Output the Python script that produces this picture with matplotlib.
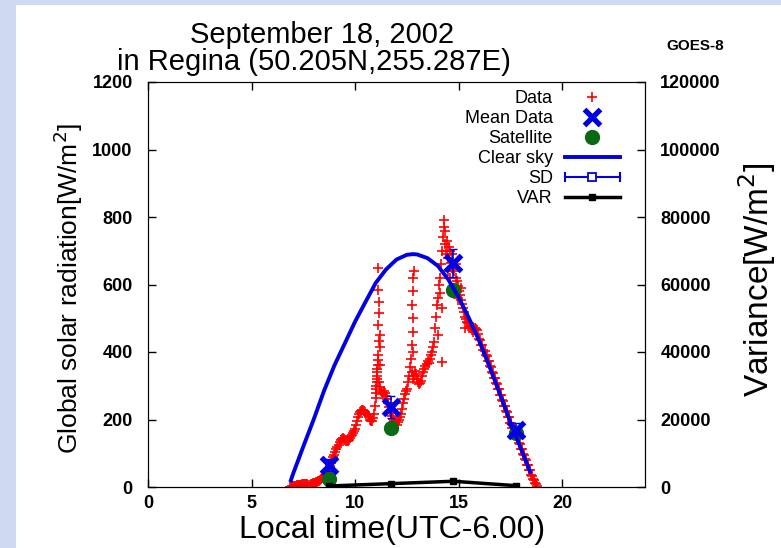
import numpy as np
import matplotlib
matplotlib.use("Agg")
import matplotlib.pyplot as plt
from matplotlib.lines import Line2D
from matplotlib.patches import Rectangle
from matplotlib.legend_handler import HandlerBase

plt.rcParams["font.family"] = ["Liberation Sans", "DejaVu Sans"]

data_t = [
    6.85, 6.90, 6.95, 7.00, 7.05, 7.10, 7.15, 7.20, 7.25, 7.30,
    7.35, 7.40, 7.45, 7.50, 7.55, 7.60, 7.65, 7.70, 7.75, 7.80,
    7.85, 7.90, 7.95, 8.00, 8.05, 8.10, 8.15, 8.20,
    8.25, 8.30, 8.35, 8.40, 8.45, 8.50, 8.55, 8.60, 8.65, 8.70,
    8.75, 8.80, 8.85, 8.90, 8.95, 9.00, 9.05, 9.10, 9.15, 9.20,
    9.25, 9.30, 9.35, 9.40, 9.45, 9.50, 9.55, 9.60, 9.65, 9.70,
    9.75, 9.80, 9.85, 9.90, 9.95, 10.00, 10.05, 10.10, 10.15, 10.20,
    10.25, 10.30, 10.35, 10.40, 10.45, 10.50, 10.55, 10.60, 10.65, 10.70,
    10.75, 10.80, 10.85, 10.90, 10.95,
    11.00, 11.01, 11.02, 11.03, 11.04, 11.05, 11.06, 11.07, 11.08, 11.09,
    11.10, 11.11,
    11.10, 11.12, 11.15, 11.12, 11.18, 11.20, 11.22, 11.14, 11.16,
    11.15, 11.20, 11.25, 11.30, 11.35, 11.40, 11.45, 11.50, 11.55, 11.60,
    11.65, 11.70, 11.75, 11.80, 11.85, 11.90, 11.95, 12.00, 12.05, 12.10,
    12.15, 12.20, 12.25, 12.30, 12.35, 12.40, 12.45, 12.50, 12.55, 12.60,
    12.65, 12.70,
    12.75, 12.78, 12.80, 12.76, 12.82, 12.80, 12.85, 12.80,
    12.75, 12.80, 12.85, 12.90, 12.95, 13.00, 13.05, 13.10, 13.15, 13.20,
    13.25, 13.30, 13.35, 13.40, 13.45, 13.50, 13.55, 13.60, 13.65, 13.70,
    13.75, 13.80, 13.85, 13.90, 13.95, 14.00, 14.05, 14.10, 14.15, 14.20,
    14.25, 14.30,
    14.20, 14.20, 14.10, 14.00, 14.28,
    14.32, 14.35, 14.40, 14.45, 14.50, 14.55, 14.60, 14.65, 14.70, 14.75,
    14.80, 14.85, 14.90, 14.95, 15.00, 15.05, 15.10, 15.15, 15.20, 15.25,
    15.30, 15.35, 15.40, 15.45, 15.50, 15.55, 15.60, 15.65, 15.70, 15.75,
    15.80, 15.85, 15.90, 15.95, 16.00,
    14.42, 14.50, 14.60, 14.70, 14.85, 14.95, 15.10, 15.30,
    16.05, 16.10, 16.15, 16.20, 16.25, 16.30, 16.35, 16.40, 16.45, 16.50,
    16.55, 16.60, 16.65, 16.70, 16.75, 16.80, 16.85, 16.90, 16.95, 17.00,
    17.05, 17.10, 17.15, 17.20, 17.25, 17.30, 17.35, 17.40, 17.45, 17.50,
    17.55, 17.60, 17.65, 17.70, 17.75, 17.80, 17.85, 17.90, 17.95, 18.00,
    18.05, 18.10, 18.15, 18.20, 18.25, 18.30, 18.35, 18.40, 18.45, 18.50,
    18.55, 18.60, 18.65, 18.70, 18.75, 18.80]
data_v = [
    0, 1, 2, 3, 3, 4, 4, 5, 6, 6,
    7, 7, 8, 8, 9, 9, 8, 8, 7, 7,
    8, 9, 11, 12, 13, 15, 16, 17,
    19, 21, 23, 26, 28, 30, 33, 36, 40, 45,
    52, 62, 70, 80, 88, 95, 104, 112, 118, 125,
    132, 138, 143, 145, 143, 140, 137, 135, 137, 140,
    145, 150, 155, 160, 166, 172, 184, 195, 206, 215,
    221, 225, 227, 228, 225, 222, 217, 212, 206, 200,
    197, 195, 203, 215, 240,
    265, 278, 290, 300, 310, 320, 330, 340, 350, 362,
    375, 390,
    649, 584, 548, 480, 450, 415, 361, 515, 432,
    310, 295, 285, 275, 280, 285, 280, 270, 262, 250,
    238, 225, 218, 210, 202, 195, 190, 185, 192, 200,
    207, 215, 232, 250, 262, 275, 283, 290, 310, 330,
    355, 380,
    420, 460, 500, 540, 580, 620, 640, 400,
    340, 320, 330, 345, 335, 320, 312, 305, 308, 315,
    328, 340, 350, 360, 365, 372, 368, 380, 390, 400,
    415, 430, 470, 505, 540, 560, 600, 620, 660, 700,
    740, 790,
    370, 530, 575, 450, 770,
    760, 720, 690, 700, 680, 710, 700, 665, 650, 645,
    640, 620, 610, 595, 580, 568, 555, 542, 530, 518,
    505, 497, 490, 487, 485, 478, 470, 465, 460, 465,
    470, 468, 465, 452, 440,
    730, 640, 620, 690, 660, 560, 590, 470,
    436, 422, 420, 406, 404, 391, 389, 374, 372, 358,
    356, 341, 339, 324, 323, 308, 306, 291, 290, 274,
    273, 258, 256, 241, 240, 224, 223, 208, 206, 191,
    190, 176, 175, 161, 160, 146, 144, 129, 128, 114,
    112, 98, 96, 82, 80, 66, 64, 51, 49, 37,
    33, 25, 20, 13, 9, 4]

# 3-hourly means, GOES-8 estimate, SD and variance
mean_t = [8.75, 11.75, 14.75, 17.75]
mean_v = [65, 237, 663, 170]
sat_v = [24, 175, 584, 160]
sd_v = [17, 32, 41, 20]
var_v = [300, 1000, 1700, 400]

# clear sky model
clear_t = [6.9, 7.0, 7.5, 8.0, 8.5, 9.0, 9.5, 10.0, 10.5, 11.0, 11.5, 12.0,
           12.5, 12.8, 13.0, 13.5, 14.0, 14.5, 15.0, 15.5, 16.0, 16.5, 17.0,
           17.5, 18.0, 18.45]
clear_v = [20, 38, 120, 200, 285, 360, 425, 490, 548, 605, 645, 674,
           688, 690, 689, 678, 655, 615, 562, 500, 432, 355, 275,
           192, 115, 45]

RED = "#ff0000"
BLUE = "#0000e0"
GREEN = "#0a6a14"


class SDHandler(HandlerBase):
    # gnuplot-style xy errorbar key sample
    def create_artists(self, legend, orig, xd, yd, w, h, fs, trans):
        y = h / 2 - yd
        x0, x1 = -xd, -xd + w
        c = 0.3 * h
        arts = [Line2D([x0, x1], [y, y], color=BLUE, lw=1.5),
                Line2D([x0, x0], [y - c, y + c], color=BLUE, lw=1.5),
                Line2D([x1, x1], [y - c, y + c], color=BLUE, lw=1.5),
                Line2D([(x0 + x1) / 2], [y], marker="s", ms=6, mfc="white",
                       mec=BLUE, mew=1.3, color=BLUE)]
        for a in arts:
            a.set_transform(trans)
        return arts


fig = plt.figure(figsize=(7.81, 5.48), dpi=100)
fig.patch.set_facecolor("#cfdaf2")
fig.patches.append(Rectangle((16 / 781, 0), 1, 1 - 5 / 548, facecolor="white",
                             edgecolor="none", transform=fig.transFigure,
                             zorder=-5))

ax = fig.add_axes([148 / 781, 1 - 487 / 548, 497 / 781, 405 / 548])
ax.set_facecolor("white")
ax2 = ax.twinx()

h_data, = ax.plot(data_t, data_v, "+", color=RED, ms=6.5, mew=1.2, zorder=2)
ax.errorbar(mean_t, mean_v, yerr=sd_v, fmt="s", ms=3, mfc="white", mec=BLUE,
            color=BLUE, capsize=3, lw=1.2, zorder=3)
h_sat, = ax.plot(mean_t, sat_v, "o", color=GREEN, ms=10, zorder=3)
h_clear, = ax.plot(clear_t, clear_v, "-", color=BLUE, lw=2.8, zorder=4)
h_mean, = ax.plot(mean_t, mean_v, "x", color=BLUE, ms=11, mew=3.8, zorder=5)
h_var, = ax2.plot(mean_t, var_v, "-s", color="black", lw=2.5, ms=5)

ax.set_xlim(0, 24)
ax.set_ylim(0, 1200)
ax2.set_ylim(0, 120000)
ax.set_xticks([0, 5, 10, 15, 20])
ax.set_yticks(range(0, 1201, 200))
ax2.set_yticks(range(0, 120001, 20000))
ax.tick_params(direction="in", length=6, width=1, top=True, labelsize=13)
ax.tick_params(axis="x", pad=6)
ax.tick_params(axis="y", pad=11)
ax2.tick_params(direction="in", length=6, width=1, labelsize=13, pad=11)
for lab in ax.get_xticklabels() + ax.get_yticklabels() + ax2.get_yticklabels():
    lab.set_fontweight("bold")

fig.text(392 / 781, 1 - 530 / 548, "Local time(UTC-6.00)", ha="center",
         va="center", fontsize=23)
fig.text(68 / 781, 1 - 288 / 548, "Global solar radiation[W/m$^2$]",
         ha="center", va="center", rotation=90, fontsize=19)
fig.text(757 / 781, 1 - 280 / 548, "Variance[W/m$^2$]", ha="center",
         va="center", rotation=90, fontsize=24)

fig.text(322 / 781, 1 - 43 / 548, "September 18, 2002",
         ha="center", va="baseline", fontsize=21)
fig.text(314 / 781, 1 - 70 / 548, "in Regina (50.205N,255.287E)",
         ha="center", va="baseline", fontsize=21)
fig.text(695 / 781, 1 - 50 / 548, "GOES-8", ha="center", fontsize=11,
         fontweight="bold")

h_sd = Line2D([], [], color=BLUE)
ax2.legend([h_data, h_mean, h_sat, h_clear, h_sd, h_var],
           ["Data", "Mean Data", "Satellite", "Clear sky", "SD", "VAR"],
           handler_map={h_sd: SDHandler()}, loc="upper right",
           bbox_to_anchor=(620 / 781, 1 - 90 / 548),
           bbox_transform=fig.transFigure, frameon=False, markerfirst=False,
           fontsize=13, handlelength=3.05, handletextpad=0.67,
           labelspacing=0.17, borderpad=0, borderaxespad=0)

fig.savefig("out.png", dpi=100)
